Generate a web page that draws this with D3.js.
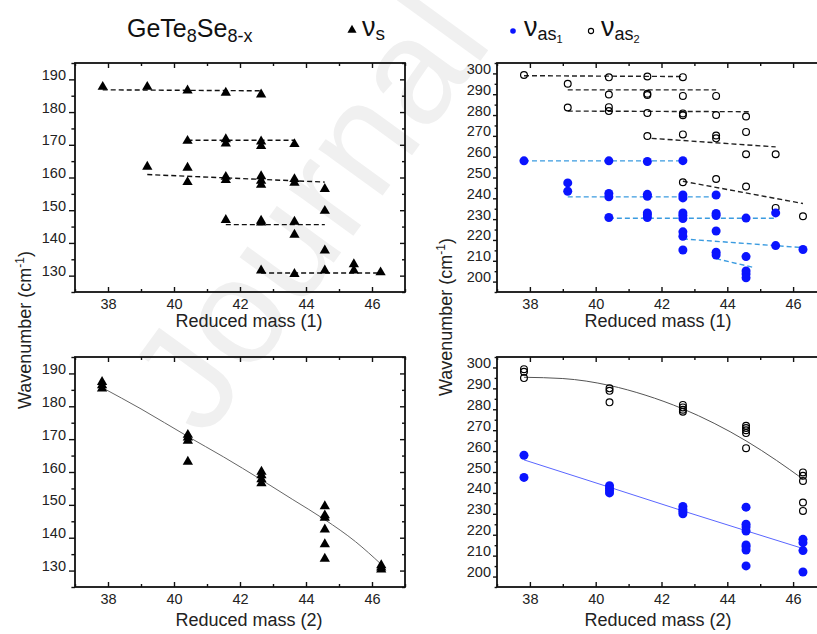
<!DOCTYPE html>
<html><head><meta charset="utf-8">
<script src="https://cdn.jsdelivr.net/npm/d3@7"></script>
<style>
body{margin:0;background:#fff;}
svg{display:block;font-family:Arial,"Liberation Sans",sans-serif;}
.tick text{font-family:"Liberation Sans Narrow",Arial,"Liberation Sans",sans-serif;font-size:14.5px;fill:#222;}
</style></head><body>
<svg id="c" width="817" height="634"></svg>
<script>
// ---------- DATA ----------
const xTicks = [38, 40, 42, 44, 46];
const yTicksS = [130, 140, 150, 160, 170, 180, 190];
const yTicksAs = [200, 210, 220, 230, 240, 250, 260, 270, 280, 290, 300];

// Panel (a): nu_s vs reduced mass (1)
const sX1 = [37.84, 39.19, 40.41, 41.57, 42.64,
             40.41, 41.57, 41.57, 42.64, 42.64, 43.65,
             39.19, 40.41, 40.41, 41.57, 41.57, 42.64, 42.64, 42.64, 43.65, 43.65, 44.57,
             41.57, 42.64, 42.64, 43.65, 43.65, 44.57, 44.57,
             42.64, 43.65, 44.57, 45.45, 45.45, 46.26];
const sY1 = [187.7, 187.7, 186.6, 185.9, 185.4,
             171.2, 171.7, 170.4, 171.0, 169.6, 170.2,
             163.3, 163.0, 158.6, 160.2, 159.2, 160.4, 159.0, 157.8, 159.5, 158.4, 156.5,
             147.0, 146.8, 146.2, 146.5, 142.5, 149.8, 137.7,
             131.6, 130.5, 131.6, 133.5, 131.6, 131.0];
// dashed group lines in panel (a): [x0, y0, x1, y1]
const sLinesX0 = [37.84, 40.41, 39.19, 41.57, 42.64];
const sLinesY0 = [186.8, 171.4, 160.9, 145.6, 130.8];
const sLinesX1 = [42.64, 43.65, 44.57, 44.57, 46.26];
const sLinesY1 = [186.5, 171.4, 158.6, 145.6, 130.8];

// Panel (b): nu_as1 (filled blue) and nu_as2 (open) vs reduced mass (1)
const as2X1 = [37.82, 40.40, 41.57, 42.65,
               39.15, 40.40, 41.57, 41.57, 42.65, 43.66,
               39.15, 40.40, 40.40, 41.57, 42.65, 42.65, 43.66, 44.57,
               41.57, 42.65, 43.66, 43.66, 44.57, 44.57, 45.47,
               42.65, 43.66, 44.57, 45.47, 46.30];
const as2Y1 = [299.2, 298.1, 298.5, 298.2,
               295.0, 289.9, 290.2, 289.6, 289.2, 289.2,
               283.6, 283.8, 281.9, 281.0, 280.8, 279.9, 280.0, 279.3,
               269.9, 270.7, 270.2, 268.8, 271.9, 261.2, 261.2,
               247.7, 249.3, 245.7, 235.4, 231.4];
const as1X1 = [37.82, 40.40, 41.57, 42.65,
               39.15, 39.15, 40.40, 40.40, 41.57, 41.57, 42.65, 42.65, 43.66,
               40.40, 41.57, 41.57, 41.57, 42.65, 42.65, 42.65, 43.66, 43.66, 44.57, 45.47,
               42.65, 42.65, 42.65, 43.66, 43.66, 43.66, 44.57, 44.57, 44.57, 44.57, 45.47, 46.30];
const as1Y1 = [258.0, 258.0, 257.7, 258.1,
               247.4, 243.4, 242.3, 240.7, 241.9, 241.0, 241.6, 240.2, 241.6,
               230.8, 233.0, 232.1, 230.8, 233.0, 231.7, 230.3, 232.7, 231.7, 230.5, 233.0,
               223.9, 221.8, 215.2, 224.3, 214.1, 212.8, 212.0, 205.1, 203.6, 201.8, 217.3, 215.4];
const as2LinesX0 = [37.82, 39.15, 39.15, 41.70, 42.65];
const as2LinesY0 = [298.9, 292.1, 281.9, 268.8, 248.2];
const as2LinesX1 = [42.65, 43.66, 44.72, 45.47, 46.30];
const as2LinesY1 = [298.5, 292.1, 281.6, 264.7, 237.5];
const as1LinesX0 = [37.82, 39.15, 40.40, 42.65, 43.66];
const as1LinesY0 = [258.0, 240.7, 230.4, 220.5, 211.0];
const as1LinesX1 = [42.65, 43.66, 45.47, 46.30, 44.83];
const as1LinesY1 = [258.0, 240.7, 230.4, 216.3, 206.7];

// Panel (c): nu_s vs reduced mass (2)
const sX2 = [37.82, 37.82, 37.82, 40.42, 40.42, 40.42, 40.42,
             42.65, 42.65, 42.65, 42.65,
             44.57, 44.57, 44.57, 44.57, 44.57, 44.57,
             46.28, 46.28, 46.28];
const sY2 = [187.4, 186.4, 185.4, 171.3, 170.5, 169.5, 163.1,
             160.1, 159.0, 157.8, 156.6,
             149.6, 146.8, 146.1, 142.5, 138.0, 133.6,
             131.6, 130.9, 130.3];
const sFitX = [37.82, 39.0, 40.42, 41.5, 42.65, 43.6, 44.57, 45.5, 46.28];
const sFitY = [185.7, 179.2, 170.8, 164.6, 157.6, 151.6, 145.5, 138.8, 131.9];

// Panel (d): nu_as1 / nu_as2 vs reduced mass (2)
const as2X2 = [37.82, 37.82, 37.82, 40.42, 40.42, 40.42,
               42.65, 42.65, 42.65, 42.65,
               44.57, 44.57, 44.57, 44.57, 44.57,
               46.30, 46.30, 46.30, 46.30, 46.30];
const as2Y2 = [299.2, 297.9, 294.9, 290.0, 288.8, 283.3,
               282.1, 280.9, 279.8, 278.8,
               272.1, 271.0, 270.0, 268.6, 261.4,
               249.8, 248.2, 245.7, 235.4, 231.4];
const as1X2 = [37.82, 37.82, 40.42, 40.42, 40.42, 40.42,
               42.65, 42.65, 42.65, 42.65,
               44.57, 44.57, 44.57, 44.57, 44.57, 44.57, 44.57, 44.57,
               46.30, 46.30, 46.30, 46.30];
const as1Y2 = [258.0, 247.4, 243.4, 242.2, 241.1, 240.0,
               233.5, 232.2, 231.1, 230.0,
               233.2, 225.0, 223.7, 221.8, 215.1, 214.2, 212.7, 205.1,
               217.8, 216.2, 212.4, 202.2];
const as2FitX = [37.82, 39.0, 40.42, 41.5, 42.65, 43.6, 44.57, 45.5, 46.30];
const as2FitY = [295.3, 294.7, 291.4, 286.8, 280.2, 273.3, 264.9, 255.5, 246.6];
const as1FitX = [37.82, 40.42, 42.65, 44.57, 46.30];
const as1FitY = [255.8, 242.7, 231.4, 221.9, 213.4];

// ---------- DRAW ----------
const svg = d3.select("#c");
const BLUE = "#0a14ff", LBLUE = "#3a9be0";

// watermark
svg.append("text").attr("transform", "translate(205,440) rotate(-54)")
  .attr("font-size", 150).attr("fill", "#f0f0f0")
  .attr("font-family", "Arial, 'Liberation Sans', sans-serif")
  .text("Journal Pre-proof");

function panel(x0, x1, y0, y1, yDom, yMaj, yMin, left) {
  const x = d3.scaleLinear().domain([37, 47]).range([x0, x1]);
  const y = d3.scaleLinear().domain(yDom).range([y1, y0]);
  const g = svg.append("g");
  const tl = left ? 6 : 4, pad = left ? 3 : 2;
  const xMin = d3.range(37, 48, 1).filter(v => v % 2 !== 0);
  // left axis (outward)
  g.append("g").attr("transform", `translate(${x0},0)`)
    .call(d3.axisLeft(y).tickValues(yMaj).tickSize(tl).tickPadding(pad).tickFormat(d3.format("d")));
  g.append("g").attr("transform", `translate(${x0},0)`)
    .call(d3.axisLeft(y).tickValues(yMin).tickSize(tl * 0.6).tickFormat(""));
  // right axis (inward)
  g.append("g").attr("transform", `translate(${x1},0)`)
    .call(d3.axisRight(y).tickValues(yMaj).tickSize(-5).tickFormat(""));
  g.append("g").attr("transform", `translate(${x1},0)`)
    .call(d3.axisRight(y).tickValues(yMin).tickSize(-3).tickFormat(""));
  // bottom axis (inward)
  g.append("g").attr("transform", `translate(0,${y1})`)
    .call(d3.axisBottom(x).tickValues(xTicks).tickSize(-5).tickPadding(17).tickFormat(d3.format("d")));
  g.append("g").attr("transform", `translate(0,${y1})`)
    .call(d3.axisBottom(x).tickValues(xMin).tickSize(-3).tickFormat(""));
  // top axis (inward)
  g.append("g").attr("transform", `translate(0,${y0})`)
    .call(d3.axisTop(x).tickValues(xTicks).tickSize(-5).tickFormat(""));
  g.append("g").attr("transform", `translate(0,${y0})`)
    .call(d3.axisTop(x).tickValues(xMin).tickSize(-3).tickFormat(""));
  g.selectAll(".domain").remove();
  g.selectAll(".tick line").attr("stroke", "#111").attr("stroke-width", 1.4);
  g.selectAll(".tick text").attr("dy", null);
  svg.append("rect").attr("x", x0).attr("y", y0).attr("width", x1 - x0).attr("height", y1 - y0)
    .attr("fill", "none").attr("stroke", "#111").attr("stroke-width", 1.8);
  const data = svg.append("g");
  return {x, y, data};
}

const triangle = d3.symbol().type(d3.symbolTriangle).size(46);

function triangles(p, xs, ys) {
  p.data.selectAll(null).data(xs.map((v, i) => [v, ys[i]])).join("path")
    .attr("d", triangle).attr("fill", "#000")
    .attr("transform", d => `translate(${p.x(d[0])},${p.y(d[1])})`);
}
function dots(p, xs, ys) {
  p.data.selectAll(null).data(xs.map((v, i) => [v, ys[i]])).join("circle")
    .attr("cx", d => p.x(d[0])).attr("cy", d => p.y(d[1])).attr("r", 4.5).attr("fill", BLUE);
}
function rings(p, xs, ys) {
  p.data.selectAll(null).data(xs.map((v, i) => [v, ys[i]])).join("circle")
    .attr("cx", d => p.x(d[0])).attr("cy", d => p.y(d[1])).attr("r", 3.4)
    .attr("fill", "none").attr("stroke", "#000").attr("stroke-width", 1.2);
}
function segs(p, X0, Y0, X1, Y1, color) {
  p.data.selectAll(null).data(X0.map((v, i) => [v, Y0[i], X1[i], Y1[i]])).join("line")
    .attr("x1", d => p.x(d[0])).attr("y1", d => p.y(d[1]))
    .attr("x2", d => p.x(d[2])).attr("y2", d => p.y(d[3]))
    .attr("stroke", color).attr("stroke-width", 1.4).attr("stroke-dasharray", "5,3");
}
function fit(p, xs, ys, color) {
  p.data.append("path").datum(xs.map((v, i) => [v, ys[i]]))
    .attr("d", d3.line().x(d => p.x(d[0])).y(d => p.y(d[1])).curve(d3.curveMonotoneX))
    .attr("fill", "none").attr("stroke", color).attr("stroke-width", 1);
}

const pa = panel(75, 405, 63, 292, [125, 195], yTicksS, d3.range(125, 196, 10), true);
const pb = panel(497, 826, 63, 292, [195, 305], yTicksAs, d3.range(195, 306, 10), false);
const pc = panel(75, 405, 357, 587, [125, 195], yTicksS, d3.range(125, 196, 10), true);
const pd = panel(497, 826, 357, 587, [195, 305], yTicksAs, d3.range(195, 306, 10), false);

segs(pa, sLinesX0, sLinesY0, sLinesX1, sLinesY1, "#111");
triangles(pa, sX1, sY1);

segs(pb, as2LinesX0, as2LinesY0, as2LinesX1, as2LinesY1, "#222");
segs(pb, as1LinesX0, as1LinesY0, as1LinesX1, as1LinesY1, LBLUE);
rings(pb, as2X1, as2Y1);
dots(pb, as1X1, as1Y1);

fit(pc, sFitX, sFitY, "#666");
triangles(pc, sX2, sY2);

fit(pd, as2FitX, as2FitY, "#555");
fit(pd, as1FitX, as1FitY, "#5a66ff");
rings(pd, as2X2, as2Y2);
dots(pd, as1X2, as1Y2);

// axis titles
const lab = (x, y, t) => svg.append("text").attr("x", x).attr("y", y)
  .attr("text-anchor", "middle").attr("font-size", 18).attr("fill", "#222").text(t);
lab(249, 327, "Reduced mass (1)");
lab(658, 327, "Reduced mass (1)");
lab(249, 626, "Reduced mass (2)");
lab(658, 626, "Reduced mass (2)");

function ylab(cx, cy) {
  const t = svg.append("text").attr("transform", `translate(${cx},${cy}) rotate(-90)`)
    .attr("text-anchor", "middle").attr("font-size", 18).attr("fill", "#222");
  t.append("tspan").text("Wavenumber (cm");
  t.append("tspan").attr("font-size", 12).attr("dy", -7).text("-1");
  t.append("tspan").attr("dy", 7).text(")");
}
ylab(31, 330);
ylab(452, 317);

// title
const ttl = svg.append("text").attr("x", 127).attr("y", 37).attr("font-size", 25).attr("fill", "#111");
ttl.append("tspan").text("GeTe");
ttl.append("tspan").attr("font-size", 18).attr("dy", 5).text("8");
ttl.append("tspan").attr("dy", -5).text("Se");
ttl.append("tspan").attr("font-size", 18).attr("dy", 5).text("8-x");

// legend
svg.append("path").attr("d", d3.symbol().type(d3.symbolTriangle).size(36))
  .attr("transform", "translate(352,30)").attr("fill", "#000");
const l1 = svg.append("text").attr("x", 362).attr("y", 36).attr("font-size", 27).attr("fill", "#111");
l1.append("tspan").text("ν");
l1.append("tspan").attr("font-size", 19).attr("dy", 4).text("s");

svg.append("circle").attr("cx", 513).attr("cy", 31).attr("r", 2.8).attr("fill", BLUE);
const l2 = svg.append("text").attr("x", 524).attr("y", 36).attr("font-size", 27).attr("fill", "#111");
l2.append("tspan").text("ν");
l2.append("tspan").attr("font-size", 18).attr("dy", 4).text("as");
l2.append("tspan").attr("font-size", 11).attr("dy", 3).text("1");

svg.append("circle").attr("cx", 591).attr("cy", 31).attr("r", 2.6).attr("fill", "none")
  .attr("stroke", "#000").attr("stroke-width", 1.1);
const l3 = svg.append("text").attr("x", 601).attr("y", 36).attr("font-size", 27).attr("fill", "#111");
l3.append("tspan").text("ν");
l3.append("tspan").attr("font-size", 18).attr("dy", 4).text("as");
l3.append("tspan").attr("font-size", 11).attr("dy", 3).text("2");
</script>
</body></html>
